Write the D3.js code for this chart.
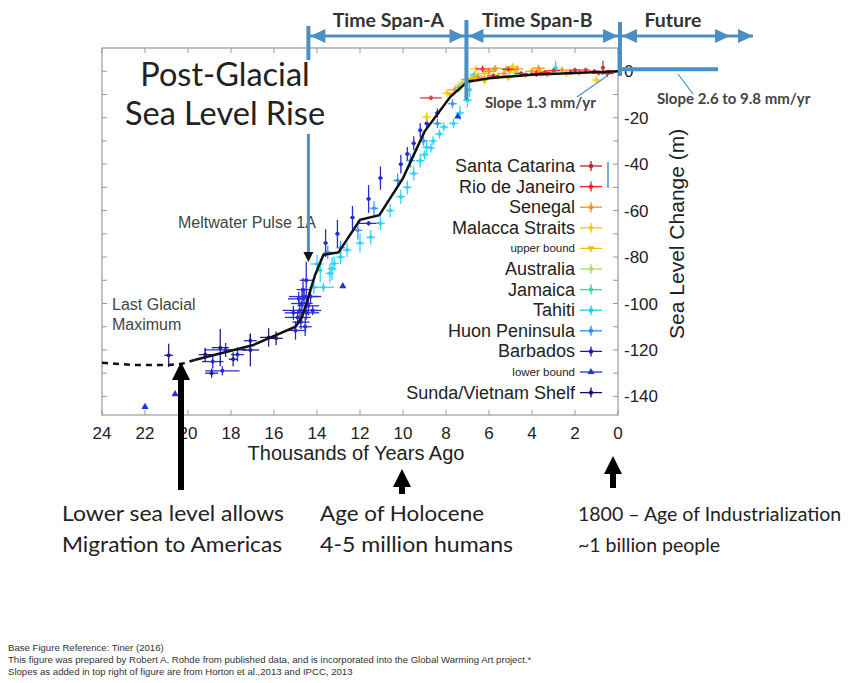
<!DOCTYPE html>
<html>
<head>
<meta charset="utf-8">
<script src="https://cdn.jsdelivr.net/npm/d3@7"></script>
<style>
  body { margin: 0; background: #fff; }
  svg { display: block; }
</style>
</head>
<body>
<div id="chart"></div>
<script>
// ---- data (thousands of years ago, sea level change in m, +/- t, +/- m) ----
const xTickValues = [24, 22, 20, 18, 16, 14, 12, 10, 8, 6, 4, 2, 0];
const yTickValues = [0, -20, -40, -60, -80, -100, -120, -140];

const trendDashed = [[24, -125.5], [22.5, -126.5], [21, -126.5], [20.3, -126], [19.7, -124.3]];
const trendSolid = [[19.7, -124.3], [17, -118], [15, -110], [14.7, -106], [14.5, -100], [14.1, -88],
  [13.7, -79], [13.0, -78], [12.0, -64], [11.1, -62], [10.0, -46], [9.0, -26], [7.8, -11],
  [7.0, -4.5], [6.0, -3], [4.0, -1.5], [2.0, -0.8], [0, 0]];

const santaCatarina = [[5.8, -2, 0.3, 1], [4.5, -1, 0.3, 1], [3.4, -0.5, 0.3, 1], [2.0, 0.5, 0.3, 1],
  [1.1, 0, 0.2, 1], [0.5, -1, 0.3, 1.5], [0.7, 1.5, 0.1, 3]];
const rioDeJaneiro = [[8.7, -11.5, 0.5, 1], [6.3, 1, 0.3, 1.5], [3.8, -1, 0.3, 1.5], [3.0, 0.3, 0.3, 1],
  [2.2, -0.5, 0.3, 1], [1.5, 0.5, 0.2, 1], [0.9, -0.8, 0.3, 1], [0.4, -0.3, 0.3, 1], [5.1, 0.8, 0.3, 1]];
const senegal = [[7.6, -8, 0.3, 1.5], [7.0, -3.5, 0.3, 2], [6.5, -2.5, 0.3, 2], [6.0, 0, 0.3, 1.5],
  [5.3, -1, 0.3, 1.5], [4.7, 1, 0.3, 1.5], [4.0, 0, 0.3, 1.5], [3.3, -1, 0.3, 1.5], [2.6, 0.5, 0.3, 1.5],
  [1.8, -0.5, 0.3, 1.5], [5.7, 1.2, 0.3, 1.5], [3.7, 1.3, 0.3, 1.5]];
const malaccaStraits = [[8.9, -19.7, 0.2, 2], [7.95, -9.5, 0.2, 2], [7.3, -6, 0.3, 2], [6.8, -3, 0.3, 1.5],
  [6.2, -1, 0.3, 1.5], [5.6, -2, 0.3, 1.5], [5.0, 0.5, 0.3, 1.5], [4.3, -1.5, 0.3, 1.5], [3.6, 0, 0.3, 1.5],
  [2.4, -1, 0.3, 1.5], [1.0, -3.8, 0.2, 1.5], [6.6, 1, 0.3, 1.5], [4.9, 2, 0.3, 1.5]];
const upperBound = [[7.8, -10], [6.2, -4], [5.1, -2.5]];
const australia = [[7.2, -5, 0.2, 1.5], [6.6, -2, 0.3, 1.5], [5.8, 0.5, 0.2, 1.5], [4.8, -0.5, 0.3, 1.5]];
const jamaica = [[7.4, -7, 0.2, 2], [6.7, -1.5, 0.2, 1.5], [5.2, 1, 0.2, 1.5]];
const tahiti = [[14.15, -93, 0.2, 3], [14.0, -83, 0.3, 4], [13.85, -85.7, 0.1, 5], [13.7, -93, 0.5, 2],
  [13.4, -87, 0.2, 4], [13.3, -85, 0.2, 5], [13.2, -82.8, 0.2, 3], [12.9, -80, 0.2, 3], [12.6, -77, 0.2, 3],
  [12.0, -74, 0.2, 4], [11.5, -71.5, 0.2, 3], [11.05, -65.5, 0.2, 3], [10.6, -60, 0.2, 3], [10.1, -54, 0.2, 3],
  [9.8, -50, 0.2, 3], [9.5, -44, 0.2, 3], [9.2, -38.5, 0.2, 3], [9.0, -36, 0.2, 2], [8.9, -32.7, 0.2, 3],
  [8.7, -33, 0.2, 2], [8.6, -30, 0.2, 2], [8.3, -27, 0.2, 2], [8.1, -24, 0.2, 2], [7.65, -22.5, 0.2, 2],
  [7.35, -18, 0.2, 3], [7.0, -12.5, 0.2, 3], [6.9, -8, 0.1, 3], [2.9, 1.5, 0.1, 3]];
const huonPeninsula = [[13.5, -78, 0.2, 3], [12.9, -76, 0.2, 3], [12.1, -68.5, 0.2, 4], [11.35, -59, 0.2, 3],
  [10.25, -47, 0.2, 3], [9.65, -38.5, 0.2, 3], [9.05, -30, 0.2, 2], [8.4, -22.5, 0.2, 2], [7.7, -14, 0.2, 2]];
const barbados = [[18.85, -125, 0.5, 3], [18.25, -120, 1.0, 3], [18.4, -129, 0.8, 2], [17.7, -122, 0.3, 3],
  [17.1, -116, 0.3, 3], [15.0, -111.6, 0.5, 4], [14.9, -106, 0.6, 3], [14.8, -103, 0.8, 4], [14.7, -100, 0.5, 6],
  [14.6, -97, 0.7, 3], [14.75, -108, 0.4, 3], [14.5, -104, 0.6, 3], [14.4, -101, 0.5, 4], [14.65, -94, 0.3, 5],
  [14.5, -90, 0.3, 8], [14.3, -97, 0.5, 3], [14.85, -98, 0.5, 3], [14.55, -110, 0.3, 4], [15.1, -104, 0.4, 3],
  [14.2, -103, 0.4, 2], [13.6, -74, 0.1, 6], [13.05, -70, 0.1, 6], [12.35, -63, 0.1, 5], [11.6, -55, 0.1, 6],
  [11.6, -65.5, 0.5, 1], [11.05, -46, 0.1, 5], [10.1, -40, 0.1, 4], [9.8, -35.6, 0.1, 3], [9.5, -31, 0.1, 3],
  [9.2, -25.4, 0.1, 3], [8.9, -22.5, 0.1, 2], [8.4, -18, 0.1, 2]];
const lowerBound = [[22.0, -144.5], [20.6, -139], [12.8, -92.5], [7.45, -19.5]];
const sundaShelf = [[20.9, -122.3, 0.2, 5], [19.2, -122, 0.3, 3], [18.9, -130, 0.3, 2], [18.5, -119, 0.4, 8],
  [17.9, -124, 0.2, 3], [17.1, -120, 0.4, 7], [16.25, -114.6, 0.4, 4], [15.9, -115, 0.3, 3]];

const legendNames = ["Santa Catarina", "Rio de Janeiro", "Senegal", "Malacca Straits", "upper bound",
  "Australia", "Jamaica", "Tahiti", "Huon Peninsula", "Barbados", "lower bound", "Sunda/Vietnam Shelf"];

const bottomNotes = [
  ["Lower sea level allows", "Migration to Americas"],
  ["Age of Holocene", "4-5 million humans"],
  ["1800 \u2013 Age of Industrialization", "~1 billion people"]
];
const footnotes = [
  "Base Figure Reference: Tiner (2016)",
  "This figure was prepared by Robert A. Rohde from published data, and is incorporated into the Global Warming Art project.*",
  "Slopes as added in top right of figure are from Horton et al.,2013 and IPCC, 2013"
];

// ---- chart ----
const W = 851, H = 683;
const plot = { left: 102, right: 618, top: 48, bottom: 415 };
const blue = "#4a90c8";
const chartFont = "'Liberation Sans', Arial, sans-serif";
const noteFont = "Lato, 'Open Sans', sans-serif";

const x = d3.scaleLinear().domain([24, 0]).range([plot.left, plot.right]);
const y = d3.scaleLinear().domain([10, -148]).range([plot.top, plot.bottom]);

const svg = d3.select("#chart").append("svg")
  .attr("width", W).attr("height", H);

// frame
svg.append("rect")
  .attr("x", plot.left).attr("y", plot.top)
  .attr("width", plot.right - plot.left).attr("height", plot.bottom - plot.top)
  .attr("fill", "none").attr("stroke", "#999").attr("stroke-width", 1.2);

// ticks on all four sides, pointing inward
const xTickAll = d3.range(24, -1, -2);
const yTickAll = d3.range(0, -141, -10);
svg.append("g").selectAll("line").data(xTickAll).join("line")
  .attr("x1", d => x(d)).attr("x2", d => x(d))
  .attr("y1", plot.bottom).attr("y2", plot.bottom - 5)
  .attr("stroke", "#999");
svg.append("g").selectAll("line").data(xTickAll).join("line")
  .attr("x1", d => x(d)).attr("x2", d => x(d))
  .attr("y1", plot.top).attr("y2", plot.top + 5)
  .attr("stroke", "#999");
svg.append("g").selectAll("line").data(yTickAll).join("line")
  .attr("x1", plot.left).attr("x2", plot.left + 5)
  .attr("y1", d => y(d)).attr("y2", d => y(d))
  .attr("stroke", "#999");
svg.append("g").selectAll("line").data(yTickAll).join("line")
  .attr("x1", plot.right).attr("x2", plot.right - 5)
  .attr("y1", d => y(d)).attr("y2", d => y(d))
  .attr("stroke", "#999");

// axis labels
svg.append("g").selectAll("text").data(xTickValues).join("text")
  .attr("x", d => x(d)).attr("y", plot.bottom + 24)
  .attr("text-anchor", "middle")
  .style("font-family", chartFont).style("font-size", "17px").style("fill", "#222")
  .text(d => d);

svg.append("g").selectAll("text").data(yTickValues).join("text")
  .attr("x", plot.right + 6).attr("y", d => y(d) + 6)
  .style("font-family", chartFont).style("font-size", "17px").style("fill", "#222")
  .text(d => d);

svg.append("text")
  .attr("x", 356).attr("y", plot.bottom + 45)
  .attr("text-anchor", "middle")
  .style("font-family", chartFont).style("font-size", "20px").style("fill", "#222")
  .text("Thousands of Years Ago");

svg.append("text")
  .attr("transform", `translate(684,${y(-70)}) rotate(-90)`)
  .attr("text-anchor", "middle")
  .style("font-family", chartFont).style("font-size", "21px").style("fill", "#222")
  .text("Sea Level Change (m)");

// data sets
const series = [
  { data: barbados, color: "#1414d0" },
  { data: sundaShelf, color: "#0a0a80" },
  { data: huonPeninsula, color: "#2a8cff" },
  { data: tahiti, color: "#18d0f8" },
  { data: jamaica, color: "#20e0b0" },
  { data: australia, color: "#a8e05a" },
  { data: malaccaStraits, color: "#ffc400" },
  { data: senegal, color: "#ff8c10" },
  { data: rioDeJaneiro, color: "#ff1a1a" },
  { data: santaCatarina, color: "#c81e2a" }
];

const pts = svg.append("g");
series.forEach(s => {
  const g = pts.append("g").attr("stroke", s.color).attr("fill", s.color).attr("opacity", 0.9);
  g.selectAll(".h").data(s.data).join("line")
    .attr("x1", d => x(d[0] + d[2])).attr("x2", d => x(d[0] - d[2]))
    .attr("y1", d => y(d[1])).attr("y2", d => y(d[1]))
    .attr("stroke-width", 1.3);
  g.selectAll(".v").data(s.data).join("line")
    .attr("x1", d => x(d[0])).attr("x2", d => x(d[0]))
    .attr("y1", d => y(d[1] - d[3])).attr("y2", d => y(d[1] + d[3]))
    .attr("stroke-width", 1.3);
  g.selectAll("circle").data(s.data).join("circle")
    .attr("cx", d => x(d[0])).attr("cy", d => y(d[1]))
    .attr("r", 2).attr("stroke", "none");
});

const tri = d3.symbol().type(d3.symbolTriangle).size(22);
pts.selectAll(".lb").data(lowerBound).join("path")
  .attr("transform", d => `translate(${x(d[0])},${y(d[1])})`)
  .attr("d", tri).attr("fill", "#2030e0");
pts.selectAll(".ub").data(upperBound).join("path")
  .attr("transform", d => `translate(${x(d[0])},${y(d[1])}) rotate(180)`)
  .attr("d", tri).attr("fill", "#f0c000");

// trend line
const line = d3.line().x(d => x(d[0])).y(d => y(d[1]));
svg.append("path").datum(trendDashed)
  .attr("fill", "none").attr("stroke", "#111").attr("stroke-width", 2.5)
  .attr("stroke-dasharray", "6,5").attr("d", line);
svg.append("path").datum(trendSolid)
  .attr("fill", "none").attr("stroke", "#111").attr("stroke-width", 2.5)
  .attr("d", line);

// legend
const legendColors = ["#c81e2a", "#ff1a1a", "#ff8c10", "#ffc400", "#f0c000", "#a8e05a",
  "#20e0b0", "#18d0f8", "#2a8cff", "#1414d0", "#2030e0", "#0a0a80"];
const legend = svg.append("g");
legendNames.forEach((name, i) => {
  const by = 172 + i * 20.6;
  const small = name === "upper bound" || name === "lower bound";
  legend.append("text")
    .attr("x", 575).attr("y", small ? by - 2 : by)
    .attr("text-anchor", "end")
    .style("font-family", chartFont).style("font-size", small ? "11.5px" : "18px").style("fill", "#222")
    .text(name);
  const cy = by - 6;
  legend.append("line")
    .attr("x1", 580).attr("x2", 602).attr("y1", cy).attr("y2", cy)
    .attr("stroke", legendColors[i]).attr("stroke-width", 1.3);
  if (small) {
    legend.append("path")
      .attr("transform", `translate(591,${cy})` + (name === "upper bound" ? " rotate(180)" : ""))
      .attr("d", tri).attr("fill", legendColors[i]);
  } else {
    legend.append("line")
      .attr("x1", 591).attr("x2", 591).attr("y1", cy - 5).attr("y2", cy + 5)
      .attr("stroke", legendColors[i]).attr("stroke-width", 1.3);
    legend.append("circle").attr("cx", 591).attr("cy", cy).attr("r", 2.2).attr("fill", legendColors[i]);
  }
});
legend.append("line")
  .attr("x1", 608).attr("x2", 608).attr("y1", 162).attr("y2", 188)
  .attr("stroke", blue).attr("stroke-width", 1.5);

// original figure notes
svg.append("text").attr("x", 178).attr("y", 228)
  .style("font-family", chartFont).style("font-size", "16px").style("fill", "#444")
  .text("Meltwater Pulse 1A");
svg.append("text").attr("x", 112).attr("y", 310)
  .style("font-family", chartFont).style("font-size", "16px").style("fill", "#444")
  .text("Last Glacial");
svg.append("text").attr("x", 112).attr("y", 330)
  .style("font-family", chartFont).style("font-size", "16px").style("fill", "#444")
  .text("Maximum");

// title
svg.append("text").attr("x", 225).attr("y", 86).attr("text-anchor", "middle")
  .style("font-family", noteFont).style("font-size", "32.5px").style("fill", "#222")
  .text("Post-Glacial");
svg.append("text").attr("x", 225).attr("y", 125).attr("text-anchor", "middle")
  .style("font-family", noteFont).style("font-size", "32.5px").style("fill", "#222")
  .text("Sea Level Rise");

// time span annotations
const xA = x(14.4), xB = x(7.05), xF = plot.right + 2;
const arrowY = 36;
const ann = svg.append("g").attr("stroke", blue).attr("fill", blue);
ann.append("line").attr("x1", xA).attr("x2", 753).attr("y1", arrowY).attr("y2", arrowY).attr("stroke-width", 3);
ann.append("line").attr("x1", xA).attr("x2", xA).attr("y1", 26).attr("y2", 60).attr("stroke-width", 4);
ann.append("line").attr("x1", xA).attr("x2", xA).attr("y1", 134).attr("y2", 252).attr("stroke-width", 3);
ann.append("line").attr("x1", xB).attr("x2", xB).attr("y1", 20).attr("y2", 100).attr("stroke-width", 4);
ann.append("line").attr("x1", xF).attr("x2", xF).attr("y1", 22).attr("y2", 76).attr("stroke-width", 4);
ann.append("line").attr("x1", xF).attr("x2", 718).attr("y1", y(0) - 2).attr("y2", y(0) - 2).attr("stroke-width", 4);

function head(px, dir) {
  // dir 1 = pointing right, -1 = pointing left
  const len = 15, half = 7;
  ann.append("path")
    .attr("d", `M${px},${arrowY} L${px - dir * len},${arrowY - half} L${px - dir * len},${arrowY + half} Z`)
    .attr("stroke", "none");
}
head(xA + 2, -1);
head(xB - 2, 1);
head(xB + 2, -1);
head(xF - 2, 1);
head(xF + 2, -1);
head(730, 1);
head(753, 1);

// black arrowhead of meltwater pulse
svg.append("path")
  .attr("d", `M${xA},${262} L${xA - 5},${252} L${xA + 5},${252} Z`)
  .attr("fill", "#111");

[["Time Span-A", (xA + xB) / 2 + 1], ["Time Span-B", (xB + xF) / 2 - 6], ["Future", 673]].forEach(([t, cx]) => {
  svg.append("text").attr("x", cx).attr("y", 27).attr("text-anchor", "middle")
    .style("font-family", noteFont).style("font-size", "19.5px")
    .style("font-weight", "bold").style("fill", "#333")
    .text(t);
});

// slope notes
svg.append("line").attr("x1", 607).attr("y1", 76).attr("x2", 577).attr("y2", 97)
  .attr("stroke", blue).attr("stroke-width", 1.2);
svg.append("line").attr("x1", 678).attr("y1", 74).attr("x2", 693).attr("y2", 94)
  .attr("stroke", blue).attr("stroke-width", 1.2);
svg.append("text").attr("x", 485).attr("y", 108)
  .style("font-family", noteFont).style("font-size", "15px").style("font-weight", "bold").style("fill", "#444")
  .text("Slope 1.3 mm/yr");
svg.append("text").attr("x", 657).attr("y", 104)
  .style("font-family", noteFont).style("font-size", "15px").style("font-weight", "bold").style("fill", "#444")
  .text("Slope 2.6 to 9.8 mm/yr");

// big black arrows below
const arrows = [[181, 362, 490], [402, 469, 494], [613, 456, 488]];
arrows.forEach(([ax, tip, bottom]) => {
  svg.append("line").attr("x1", ax).attr("x2", ax).attr("y1", tip + 10).attr("y2", bottom)
    .attr("stroke", "#000").attr("stroke-width", 6);
  svg.append("path")
    .attr("d", `M${ax},${tip} L${ax - 9},${tip + 18} L${ax + 9},${tip + 18} Z`)
    .attr("fill", "#000");
});

// bottom notes; the first two columns are fitted to the reference widths
const noteX = [62, 320, 578];
const noteWidths = [[222, 220], [164, 193], null];
bottomNotes.forEach((lines, i) => {
  lines.forEach((t, j) => {
    const txt = svg.append("text").attr("x", noteX[i]).attr("y", 521 + j * 31)
      .style("font-family", noteFont).style("font-size", noteWidths[i] ? "21px" : "19.5px").style("fill", "#222")
      .text(t);
    if (noteWidths[i]) {
      txt.attr("textLength", noteWidths[i][j]).attr("lengthAdjust", "spacingAndGlyphs");
    }
  });
});

// footnotes
footnotes.forEach((t, i) => {
  svg.append("text").attr("x", 8).attr("y", 651 + i * 12)
    .style("font-family", chartFont).style("font-size", "9.6px").style("fill", "#333")
    .text(t);
});
</script>
</body>
</html>
